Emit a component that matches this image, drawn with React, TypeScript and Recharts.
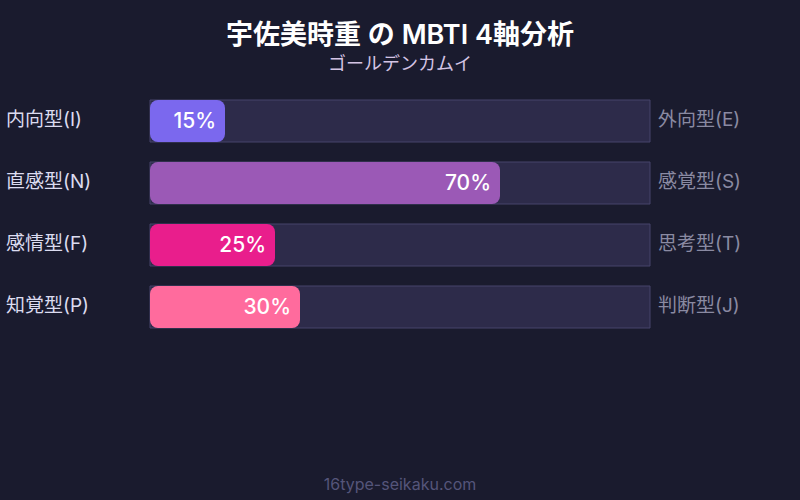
import React from 'react';
import { BarChart, Bar, XAxis, YAxis, LabelList } from 'recharts';

const leftLabels = ['内向型(I)', '直感型(N)', '感情型(F)', '知覚型(P)'];
const rightLabels = ['外向型(E)', '感覚型(S)', '思考型(T)', '判断型(J)'];
const scores = [15, 70, 25, 30];
const barColors = ['#7b68ee', '#9b59b6', '#e91e8c', '#ff6b9d'];

const data = leftLabels.map((name, i) => ({
  name,
  right: rightLabels[i],
  value: scores[i],
  fill: barColors[i],
}));

const FONT = '"Inter", "Noto Sans CJK JP", "Noto Sans", sans-serif';

const AxisTick = (props: any) => {
  const { y, payload, index } = props;
  return (
    <g>
      <text x={6} y={y} dy={5} fontSize={19} fill="#dcdcf0" textAnchor="start" fontFamily={FONT}>
        {payload.value}
      </text>
      <text x={658} y={y} dy={5} fontSize={19} fill="#8a8aa2" textAnchor="start" fontFamily={FONT}>
        {rightLabels[index]}
      </text>
    </g>
  );
};

const App: React.FC = () => {
  return (
    <div
      style={{
        position: 'absolute',
        left: 0,
        top: 0,
        width: 800,
        height: 500,
        background: '#1a1b2e',
        fontFamily: FONT,
      }}
    >
      <div style={{ position: 'absolute', top: 13, width: 800, textAlign: 'center', color: '#ffffff', fontSize: 27, fontWeight: 600 }}>
        宇佐美時重 の MBTI 4軸分析
      </div>
      <div style={{ position: 'absolute', top: 49, width: 800, textAlign: 'center', color: '#d4c4e4', fontSize: 18 }}>
        ゴールデンカムイ
      </div>
      <BarChart
        width={800}
        height={500}
        data={data}
        layout="vertical"
        margin={{ top: 90, right: 150, bottom: 162, left: 0 }}
      >
        <XAxis type="number" domain={[0, 100]} hide />
        <YAxis
          type="category"
          dataKey="name"
          width={150}
          axisLine={false}
          tickLine={false}
          tick={<AxisTick />}
        />
        <Bar
          dataKey="value"
          barSize={42}
          radius={8}
          isAnimationActive={false}
          background={{ fill: '#2d2b4a', stroke: '#46446a', strokeWidth: 1 }}
        >
          <LabelList
            dataKey="value"
            position="insideRight"
            offset={9}
            formatter={(v: any) => `${v}%`}
            fill="#ffffff"
            fontSize={21}
            fontWeight={500}
            fontFamily={FONT}
          />
        </Bar>
      </BarChart>
      <div style={{ position: 'absolute', top: 474, width: 800, textAlign: 'center', color: '#55557a', fontSize: 16 }}>
        16type-seikaku.com
      </div>
    </div>
  );
};

export default App;
